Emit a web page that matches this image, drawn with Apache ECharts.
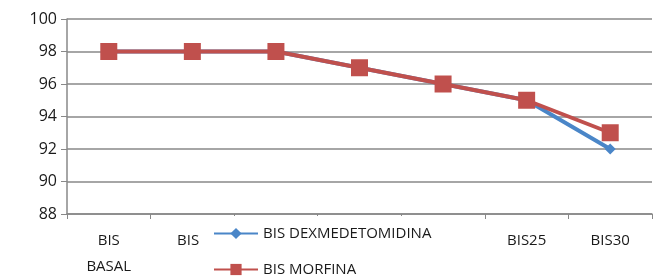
<!DOCTYPE html>
<html><head><meta charset="utf-8">
<script src="https://cdn.jsdelivr.net/npm/echarts@6/dist/echarts.min.js"></script>
<style>html,body{margin:0;padding:0;background:#fff}#c{width:660px;height:280px}</style>
</head><body><div id="c"></div>
<script>
var categories = ['BIS\nBASAL', 'BIS5', 'BIS10', 'BIS15', 'BIS20', 'BIS25', 'BIS30'];
var dexValues = [98, 98, 98, 97, 96, 95, 92];
var morValues = [98, 98, 98, 97, 96, 95, 93];
var seriesNames = ['BIS DEXMEDETOMIDINA', 'BIS MORFINA'];
var yMin = 88, yMax = 100, yStep = 2;

var font = '"Open Sans", "Liberation Sans", sans-serif';
var chart = echarts.init(document.getElementById('c'));
chart.setOption({
  animation: false,
  backgroundColor: '#fff',
  grid: {left: 67, right: 8, top: 19, bottom: 66},
  graphic: [{
    type: 'rect', z: 3, left: 199, top: 216,
    shape: {width: 272, height: 64},
    style: {fill: '#fff'}
  }],
  legend: {
    orient: 'vertical', left: 213, top: 226, z: 5,
    padding: 0, itemGap: 21,
    itemWidth: 44, itemHeight: 14,
    textStyle: {fontFamily: font, fontSize: 15, color: '#1a1a1a'},
    data: seriesNames
  },
  xAxis: {
    type: 'category', data: categories, boundaryGap: true,
    axisLine: {lineStyle: {color: '#888', width: 1.5}},
    axisTick: {show: true, length: 5, lineStyle: {color: '#888'}},
    axisLabel: {fontFamily: font, fontSize: 15, color: '#1a1a1a', margin: 14, lineHeight: 26, interval: 0}
  },
  yAxis: {
    type: 'value', min: yMin, max: yMax, interval: yStep,
    axisLine: {show: true, lineStyle: {color: '#888', width: 1.5}},
    axisTick: {show: true, length: 6, lineStyle: {color: '#888'}},
    splitLine: {lineStyle: {color: '#888', width: 1.5}},
    axisLabel: {fontFamily: font, fontSize: 16, color: '#1a1a1a', margin: 10}
  },
  series: [
    {name: seriesNames[0], type: 'line', data: dexValues, symbol: 'diamond', symbolSize: 11,
     itemStyle: {color: '#4a86c8'}, lineStyle: {color: '#4a86c8', width: 4}},
    {name: seriesNames[1], type: 'line', data: morValues, symbol: 'rect', symbolSize: 17,
     itemStyle: {color: '#c0504d'}, lineStyle: {color: '#c0504d', width: 4}}
  ]
});
</script></body></html>
